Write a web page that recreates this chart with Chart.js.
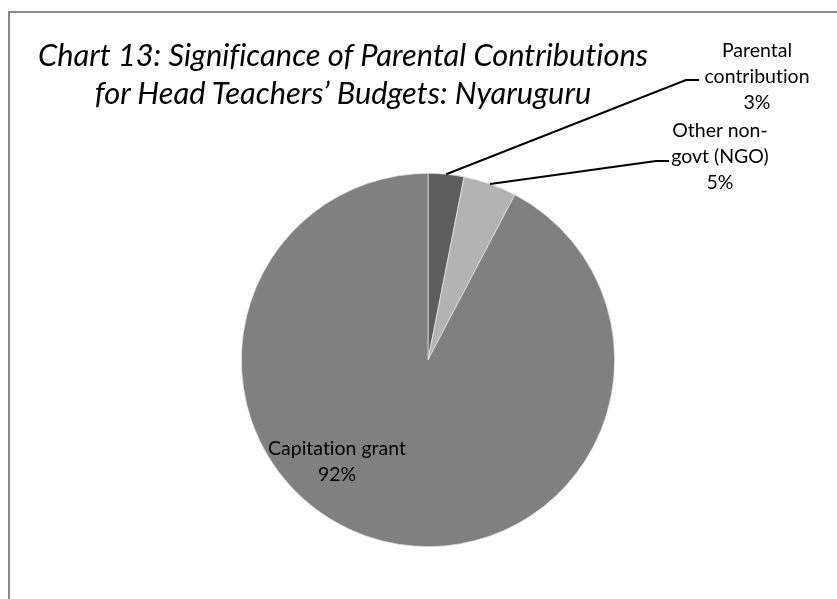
<!DOCTYPE html>
<html>
<head>
<meta charset="utf-8">
<script src="https://cdn.jsdelivr.net/npm/chart.js@4"></script>
<style>
  html, body { margin: 0; padding: 0; background: #fff; }
  #wrap { position: relative; width: 837px; height: 599px; overflow: hidden; font-family: Lato, "Open Sans", sans-serif; font-variant-ligatures: none; }
  #frame { position: absolute; left: 8px; top: 11px; width: 900px; height: 700px; border-left: 2px solid #888; border-top: 2px solid #888; }
  #c { position: absolute; left: 0; top: 0; }
  .title { position: absolute; left: 343px; top: 36px; transform: translateX(-50%); white-space: nowrap; text-align: center; font-style: italic; font-size: 30.8px; line-height: 38px; color: #000; }
  .lbl { position: absolute; transform: translateX(-50%); white-space: pre; text-align: center; font-size: 19.5px; line-height: 26px; color: #000; }
</style>
</head>
<body>
<div id="wrap">
  <div id="frame"></div>
  <canvas id="c" width="837" height="599"></canvas>
  <div class="title">Chart 13: Significance of Parental Contributions<br>for Head Teachers’ Budgets: Nyaruguru</div>
</div>
<script>
// ---- data ----
const categories = ['Parental\ncontribution', 'Other non-\ngovt (NGO)', 'Capitation grant'];
const values = [3.1, 4.6, 92.3];
const percentLabels = ['3%', '5%', '92%'];
const colors = ['#5e5e5e', '#b3b3b3', '#808080'];

// ---- layout (label anchors: center x, top y; leader elbow points) ----
const labelPos = [ {x: 757, y: 37}, {x: 720, y: 117}, {x: 337, y: 435} ];
const leaders = [ [{x: 686, y: 80}, {x: 699, y: 80}], [{x: 656, y: 161}, {x: 669, y: 161}], null ];

const wrap = document.getElementById('wrap');
categories.forEach((c, i) => {
  const d = document.createElement('div');
  d.className = 'lbl';
  d.style.left = labelPos[i].x + 'px';
  d.style.top = labelPos[i].y + 'px';
  d.textContent = c + '\n' + percentLabels[i];
  wrap.appendChild(d);
});

const leaderPlugin = {
  id: 'leaders',
  afterDatasetsDraw(chart) {
    const ctx = chart.ctx;
    const meta = chart.getDatasetMeta(0);
    ctx.save();
    ctx.strokeStyle = '#000';
    ctx.lineWidth = 2;
    meta.data.forEach((arc, i) => {
      const pts = leaders[i];
      if (!pts) return;
      const mid = (arc.startAngle + arc.endAngle) / 2;
      const sx = arc.x + Math.cos(mid) * arc.outerRadius;
      const sy = arc.y + Math.sin(mid) * arc.outerRadius;
      ctx.beginPath();
      ctx.moveTo(sx, sy);
      pts.forEach(p => ctx.lineTo(p.x, p.y));
      ctx.stroke();
    });
    ctx.restore();
  }
};

new Chart(document.getElementById('c'), {
  type: 'pie',
  data: {
    labels: categories,
    datasets: [{
      data: values,
      backgroundColor: colors,
      borderColor: '#e6e6e6',
      borderWidth: 0.7,
      hoverOffset: 0
    }]
  },
  options: {
    responsive: false,
    animation: false,
    layout: { padding: { left: 241, right: 222, top: 173, bottom: 52 } },
    plugins: { legend: { display: false }, tooltip: { enabled: false }, title: { display: false } }
  },
  plugins: [leaderPlugin]
});
</script>
</body>
</html>
